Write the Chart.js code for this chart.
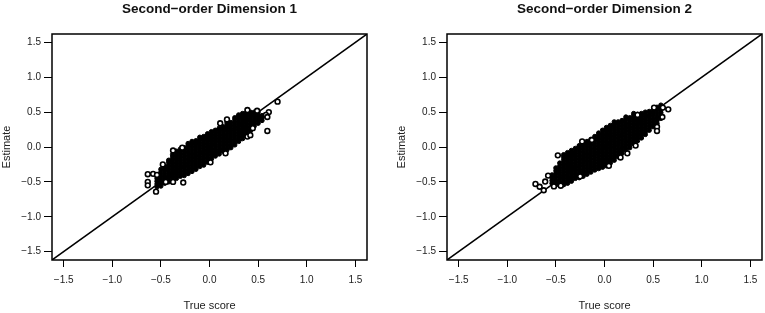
<!DOCTYPE html>
<html>
<head>
<meta charset="utf-8">
<script src="https://cdn.jsdelivr.net/npm/chart.js@4"></script>
<style>
  html, body { margin: 0; padding: 0; background: #fff; }
  .panel { position: absolute; top: 0; width: 370px; height: 313px; }
</style>
</head>
<body>
<div class="panel" style="left:0"><canvas id="dim1"></canvas></div>
<div class="panel" style="left:395px"><canvas id="dim2"></canvas></div>
<script>
const tickValues = [-1.5, -1.0, -0.5, 0.0, 0.5, 1.0, 1.5];
const lineX = [-1.62, 1.62];
const lineY = [-1.62, 1.62];

const dim1ColX = [-.54,-.50,-.46,-.42,-.38,-.34,-.30,-.26,-.22,-.18,-.14,-.10,-.06,-.02,.02,.06,.10,.14,.18,.22,.26,.30,.34,.38,.42,.46,.50,.54];
const dim1ColY = [
  [-.57,-.53,-.49,-.45],
  [-.56,-.52,-.48,-.44,-.40,-.36,-.32],
  [-.52,-.48,-.44,-.40,-.36,-.32,-.28],
  [-.50,-.46,-.42,-.38,-.34,-.30,-.26,-.22,-.19],
  [-.47,-.43,-.39,-.35,-.31,-.27,-.23,-.19,-.15,-.11],
  [-.45,-.41,-.37,-.33,-.29,-.25,-.21,-.17,-.13,-.09,-.06],
  [-.42,-.38,-.34,-.30,-.26,-.22,-.18,-.14,-.10,-.06,-.03],
  [-.41,-.37,-.33,-.29,-.25,-.21,-.17,-.13,-.09,-.05,-.01],
  [-.38,-.34,-.30,-.26,-.22,-.18,-.14,-.10,-.06,-.02,.02,.05],
  [-.35,-.31,-.27,-.23,-.19,-.15,-.11,-.07,-.03,.01,.05,.08],
  [-.32,-.28,-.24,-.20,-.16,-.12,-.08,-.04,0,.04,.07,.09],
  [-.28,-.24,-.20,-.16,-.12,-.08,-.04,0,.04,.08,.11,.14],
  [-.26,-.22,-.18,-.14,-.10,-.06,-.02,.02,.06,.10,.13,.15],
  [-.22,-.18,-.14,-.10,-.06,-.02,.02,.06,.10,.14,.17,.19],
  [-.17,-.13,-.09,-.05,-.01,.03,.07,.11,.15,.19,.22],
  [-.13,-.09,-.05,-.01,.03,.07,.11,.15,.19,.22,.24],
  [-.10,-.06,-.02,.02,.06,.10,.14,.18,.22,.25,.27],
  [-.06,-.02,.02,.06,.10,.14,.18,.22,.26,.29],
  [-.04,0,.04,.08,.12,.16,.20,.24,.28,.32,.35],
  [-.01,.03,.07,.11,.15,.19,.23,.27,.31,.35],
  [.03,.07,.11,.15,.19,.23,.27,.31,.35,.39,.42],
  [.08,.12,.16,.20,.24,.28,.32,.36,.40,.44,.46],
  [.12,.16,.20,.24,.28,.32,.36,.40,.44,.48],
  [.17,.21,.25,.29,.33,.37,.41,.45,.49],
  [.23,.27,.31,.35,.39,.43,.47,.50],
  [.30,.34,.38,.42,.46,.50],
  [.34,.38,.42,.46,.50],
  [.38,.42,.45]
];
const dim1OutX = [.70,.595,.61,.58,.595,-.55,-.635,-.635,-.635,-.58,-.54,-.375,-.48,-.27,-.375,-.45,.165,.01,.39,.42,.445,.18,.11,.39,.49,-.28];
const dim1OutY = [.65,.23,.50,.46,.43,-.64,-.39,-.50,-.55,-.385,-.40,-.05,-.25,-.51,-.50,-.50,-.09,-.22,.15,.17,.27,.395,.34,.53,.52,-.01];

const dim2ColX = [-.54,-.50,-.46,-.42,-.38,-.34,-.30,-.26,-.22,-.18,-.14,-.10,-.06,-.02,.02,.06,.10,.14,.18,.22,.26,.30,.34,.38,.42,.46,.50,.54,.58];
const dim2ColY = [
  [-.52,-.48,-.44,-.40],
  [-.54,-.50,-.46,-.42,-.38,-.34,-.30],
  [-.55,-.51,-.47,-.43,-.39,-.35,-.31,-.27,-.23],
  [-.54,-.50,-.46,-.42,-.38,-.34,-.30,-.26,-.22,-.18,-.14,-.11],
  [-.52,-.48,-.44,-.40,-.36,-.32,-.28,-.24,-.20,-.16,-.12,-.08],
  [-.49,-.45,-.41,-.37,-.33,-.29,-.25,-.21,-.17,-.13,-.09,-.05],
  [-.45,-.41,-.37,-.33,-.29,-.25,-.21,-.17,-.13,-.09,-.05,-.02],
  [-.44,-.40,-.36,-.32,-.28,-.24,-.20,-.16,-.12,-.08,-.04,0,.02],
  [-.42,-.38,-.34,-.30,-.26,-.22,-.18,-.14,-.10,-.06,-.02,.02,.05],
  [-.39,-.35,-.31,-.27,-.23,-.19,-.15,-.11,-.07,-.03,.01,.05,.08],
  [-.36,-.32,-.28,-.24,-.20,-.16,-.12,-.08,-.04,0,.04,.08,.11],
  [-.33,-.29,-.25,-.21,-.17,-.13,-.09,-.05,-.01,.03,.07,.11,.15],
  [-.31,-.27,-.23,-.19,-.15,-.11,-.07,-.03,.01,.05,.09,.13,.17,.20],
  [-.29,-.25,-.21,-.17,-.13,-.09,-.05,-.01,.03,.07,.11,.15,.19,.24],
  [-.27,-.23,-.19,-.15,-.11,-.07,-.03,.01,.05,.09,.13,.17,.21,.25,.28],
  [-.23,-.19,-.15,-.11,-.07,-.03,.01,.05,.09,.13,.17,.21,.25,.29,.31],
  [-.19,-.15,-.11,-.07,-.03,.01,.05,.09,.13,.17,.21,.25,.29,.33,.36],
  [-.14,-.10,-.06,-.02,.02,.06,.10,.14,.18,.22,.26,.30,.34,.36],
  [-.09,-.05,-.01,.03,.07,.11,.15,.19,.23,.27,.31,.35,.38],
  [-.04,0,.04,.08,.12,.16,.20,.24,.28,.32,.36,.40,.43],
  [-.01,.03,.07,.11,.15,.19,.23,.27,.31,.35,.39,.42],
  [.05,.09,.13,.17,.21,.25,.29,.33,.37,.41,.45,.48],
  [.09,.13,.17,.21,.25,.29,.33,.37,.41,.44,.47],
  [.13,.17,.21,.25,.29,.33,.37,.41,.45,.48],
  [.18,.22,.26,.30,.34,.38,.42,.46,.50],
  [.24,.28,.32,.36,.40,.44,.48,.51],
  [.29,.33,.37,.41,.45,.49,.53],
  [.34,.38,.42,.46,.50,.54,.57],
  [.41,.45,.49,.53,.57,.60]
];
const dim2OutX = [.656,-.48,-.71,-.667,-.625,-.61,-.58,.235,.32,.165,.54,.54,.51,.60,.595,-.23,-.13,-.52,-.25,-.45,.045,.34];
const dim2OutY = [.54,-.12,-.53,-.57,-.62,-.495,-.41,-.09,.02,-.15,.29,.23,.565,.565,.43,.08,.10,-.565,-.42,-.555,-.27,.46];

function corePoints(colX, colY) {
  const pts = [];
  colX.forEach((x, i) => colY[i].forEach(y => pts.push({ x: x, y: y })));
  return pts;
}

const frame = {
  id: 'frame',
  afterDatasetsDraw(chart) {
    const a = chart.chartArea, c = chart.ctx;
    c.save();
    c.strokeStyle = '#000';
    c.lineWidth = 1.5;
    c.strokeRect(a.left, a.top, a.right - a.left, a.bottom - a.top);
    c.restore();
  }
};

function axis(label, size, isX) {
  return {
    type: 'linear',
    min: -1.62,
    max: 1.62,
    afterBuildTicks(s) { s.ticks = tickValues.map(v => ({ value: v })); },
    afterFit(s) {
      if (isX) s.height = size;
      else s.width = size;
    },
    grid: { drawOnChartArea: false, color: '#000', lineWidth: 1, tickLength: isX ? 7 : 8 },
    border: { display: false },
    ticks: {
      color: '#222',
      maxRotation: 0,
      autoSkip: false,
      padding: isX ? 7 : 3,
      font: { family: '"Liberation Sans"', size: 10 },
      callback: v => (v < 0 ? '\u2212' : '') + Math.abs(v).toFixed(1)
    },
    title: {
      display: true,
      text: label,
      color: '#222',
      font: { family: '"Liberation Sans"', size: 11 },
      padding: { top: 0, bottom: 0 }
    }
  };
}

function draw(id, name, core, outX, outY) {
  new Chart(document.getElementById(id), {
    type: 'scatter',
    data: {
      datasets: [
        {
          data: outX.map((x, i) => ({ x: x, y: outY[i] })),
          showLine: false,
          pointRadius: 2.4,
          pointBorderWidth: 1.6,
          pointBackgroundColor: '#fff',
          pointBorderColor: '#000'
        },
        {
          data: core,
          showLine: false,
          pointRadius: 2.2,
          pointBorderWidth: 1,
          pointBackgroundColor: '#000',
          pointBorderColor: '#000'
        },
        {
          data: lineX.map((x, i) => ({ x: x, y: lineY[i] })),
          showLine: true,
          pointRadius: 0,
          borderColor: '#000',
          borderWidth: 1.5
        }
      ]
    },
    options: {
      responsive: false,
      animation: false,
      layout: { autoPadding: false, padding: { top: 0, right: 3, left: 0, bottom: 0 } },
      plugins: {
        legend: { display: false },
        tooltip: { enabled: false },
        title: {
          display: true,
          fullSize: false,
          text: name,
          color: '#111',
          font: { family: '"Liberation Sans"', size: 13.5, weight: 'bold' },
          padding: { top: 1, bottom: 16.8 }
        }
      },
      scales: { x: axis('True score', 53, true), y: axis('Estimate', 52, false) }
    },
    plugins: [frame]
  });
}

for (const id of ['dim1', 'dim2']) {
  const cv = document.getElementById(id);
  cv.width = 370;
  cv.height = 313;
}
draw('dim1', 'Second\u2212order Dimension 1', corePoints(dim1ColX, dim1ColY), dim1OutX, dim1OutY);
draw('dim2', 'Second\u2212order Dimension 2', corePoints(dim2ColX, dim2ColY), dim2OutX, dim2OutY);
</script>
</body>
</html>
